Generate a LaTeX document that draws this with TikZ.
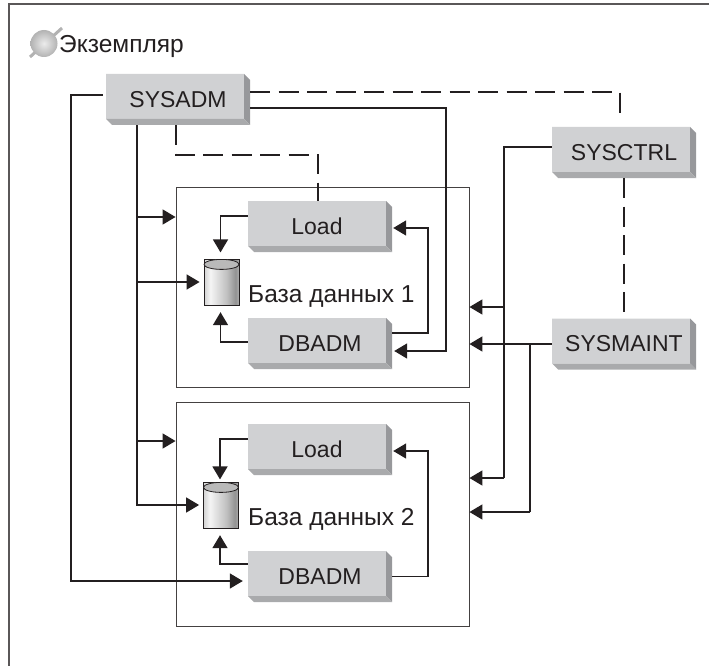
\documentclass[tikz,border=0pt]{standalone}
\usepackage{fontspec}
\setmainfont{Liberation Sans}
\usetikzlibrary{arrows.meta, shapes.geometric}

\definecolor{inkcol}{HTML}{231F20}
\definecolor{facecol}{HTML}{D0D1D3}
\definecolor{sidecol}{HTML}{97989B}
\definecolor{lowcol}{HTML}{A9AAAC}
\pgfdeclarehorizontalshading{dbshade}{100bp}{color(0bp)=(gray!35); color(25bp)=(gray!35); color(34bp)=(gray!8); color(58bp)=(gray!50); color(70bp)=(gray!85); color(75bp)=(gray!65); color(100bp)=(gray!65)}

\tikzset{
    rolebox/.style={rectangle, minimum width=144pt, minimum height=51pt, inner sep=0pt, text=inkcol,
        font=\fontsize{23}{26}\selectfont,
        path picture={
            \fill[facecol] (path picture bounding box.north west) -- ([xshift=-6pt]path picture bounding box.north east)
                -- ([shift={(-6pt,6pt)}]path picture bounding box.south east) -- ([shift={(6pt,6pt)}]path picture bounding box.south west)
                -- ([yshift=6pt]path picture bounding box.south west) -- cycle;
            \fill[sidecol] ([xshift=-6pt]path picture bounding box.north east) -- ([yshift=-6pt]path picture bounding box.north east)
                -- (path picture bounding box.south east) -- ([shift={(-6pt,6pt)}]path picture bounding box.south east) -- cycle;
            \fill[lowcol] ([yshift=6pt]path picture bounding box.south west) -- ([xshift=6pt]path picture bounding box.south west)
                -- (path picture bounding box.south east) -- ([shift={(-6pt,6pt)}]path picture bounding box.south east) -- cycle;
        }},
    dbbox/.style={rectangle, draw=inkcol!85, line width=0.9pt, minimum width=293pt, inner sep=0pt},
    dbcyl/.style={cylinder, shape border rotate=90, shape aspect=3.2, draw=inkcol, line width=0.8pt, inner sep=0pt,
        minimum width=35pt, minimum height=46pt, shading=dbshade},
    plaintext/.style={text=inkcol, inner sep=0pt, font=\fontsize{24.5}{27}\selectfont},
    solidline/.style={draw=inkcol, line width=1.6pt},
    dashline/.style={draw=inkcol, line width=1.6pt, dash pattern=on 20pt off 8.5pt},
    arrowline/.style={solidline, -{Triangle[length=13pt, width=15pt]}}
}

\begin{document}
\begin{tikzpicture}[x=1pt, y=-1pt]
    \useasboundingbox (0,0) rectangle (709,666);

    % Frame
    \draw [draw=inkcol!75, line width=1.2pt] (9,666) -- (9,4) -- (709,4);

    % Instance label
    \draw [gray!60, line width=3pt] (30,57) -- (62,28);
    \shade [inner color=gray!15, outer color=gray!60] (44,43.5) circle (13.5);
    \node [plaintext, anchor=base west] (inst) at (59,52.5) {Экземпляр};

    % Database boxes
    \node [dbbox, minimum height=200pt] (box1) at (322.5,287) {};
    \node [dbbox, minimum height=224pt] (box2) at (322.5,514) {};

    % Nodes
    \node [rolebox] (sysadm) at (178,99.5) {SYSADM};
    \node [rolebox] (sysctrl) at (624,152.5) {SYSCTRL};
    \node [rolebox] (sysmaint) at (624,344) {SYSMAINT};
    \node [rolebox] (load1) at (320,226.5) {\hspace*{-6pt}Load};
    \node [rolebox] (dbadm1) at (320,343.5) {DBADM};
    \node [rolebox] (load2) at (320,449.5) {\hspace*{-6pt}Load};
    \node [rolebox] (dbadm2) at (320,576.5) {DBADM};
    \node [dbcyl] (db1) at (221.5,283) {};
    \node [dbcyl] (db2) at (221,506) {};
    \node [plaintext, anchor=base west] (db1label) at (248,302) {База данных 1};
    \node [plaintext, anchor=base west] (db2label) at (248,525) {База данных 2};

    % Cylinder tops
    \foreach \db in {db1, db2}
        \draw [draw=inkcol, line width=0.8pt, fill=gray!55] ([yshift=-5pt]\db.north) ellipse (17.5 and 5);

    % Junctions
    \coordinate (tapa) at (137,217);
    \coordinate (tapb) at (137,282);
    \coordinate (tapc) at (137,441);
    \coordinate (tapd) at (504,307);
    \coordinate (tape) at (504,478);
    \coordinate (tapf) at (530,344);
    \coordinate (tapg) at (530,512);

    % Lines from SYSADM
    \draw [arrowline] ([shift={(-3pt,4.5pt)}]sysadm.west) -| (71,581) -- ([shift={(-5pt,-4.5pt)}]dbadm2.west);
    \draw [arrowline] ([xshift=-41pt]sysadm.south) |- ([shift={(-4pt,1pt)}]db2.west);
    \draw [arrowline] (tapa) -- (box1.west |- tapa);
    \draw [arrowline] (tapb) -- ([xshift=-4pt]db1.west |- tapb);
    \draw [arrowline] (tapc) -- (box2.west |- tapc);
    \draw [arrowline] ([yshift=-8.5pt]sysadm.east) -| (446,351) -- ([shift={(2pt,-7.5pt)}]dbadm1.east);
    \draw [dashline] ([yshift=7.5pt]sysadm.east) -| ([shift={(-4pt,11pt)}]sysctrl.north);
    \draw [dashline] ([xshift=-2pt]sysadm.south) |- (318,155) -- (load1.north -| 318,155);

    % Lines from SYSCTRL and SYSMAINT
    \draw [solidline] ([yshift=5.5pt]sysctrl.west) -| (tape);
    \draw [arrowline] (tapd) -- (box1.east |- tapd);
    \draw [arrowline] (tape) -- (box2.east |- tape);
    \draw [arrowline] (sysmaint.west) -- (box1.east |- sysmaint.west);
    \draw [solidline] (tapf) -- (tapg);
    \draw [arrowline] (tapg) -- (box2.east |- tapg);
    \draw [dashline] (sysctrl.south) -- ([yshift=5.5pt]sysmaint.north);

    % Inside the boxes
    \draw [arrowline] ([yshift=10.5pt]load1.west) -| ([shift={(-1pt,7pt)}]db1.north);
    \draw [arrowline] ([yshift=1.5pt]dbadm1.west) -| ([shift={(-1pt,-6pt)}]db1.south);
    \draw [arrowline] ([yshift=10.5pt]load2.west) -| ([shift={(-1pt,3pt)}]db2.north);
    \draw [arrowline] ([yshift=12.5pt]dbadm2.west) -| ([shift={(-1pt,-6pt)}]db2.south);
    \draw [arrowline] ([yshift=10.5pt]dbadm1.east) -| (428,228) -- ([shift={(1pt,-1.5pt)}]load1.east);
    \draw [arrowline] (dbadm2.east) -| (428,451) -- ([shift={(1pt,-1.5pt)}]load2.east);
\end{tikzpicture}
\end{document}
